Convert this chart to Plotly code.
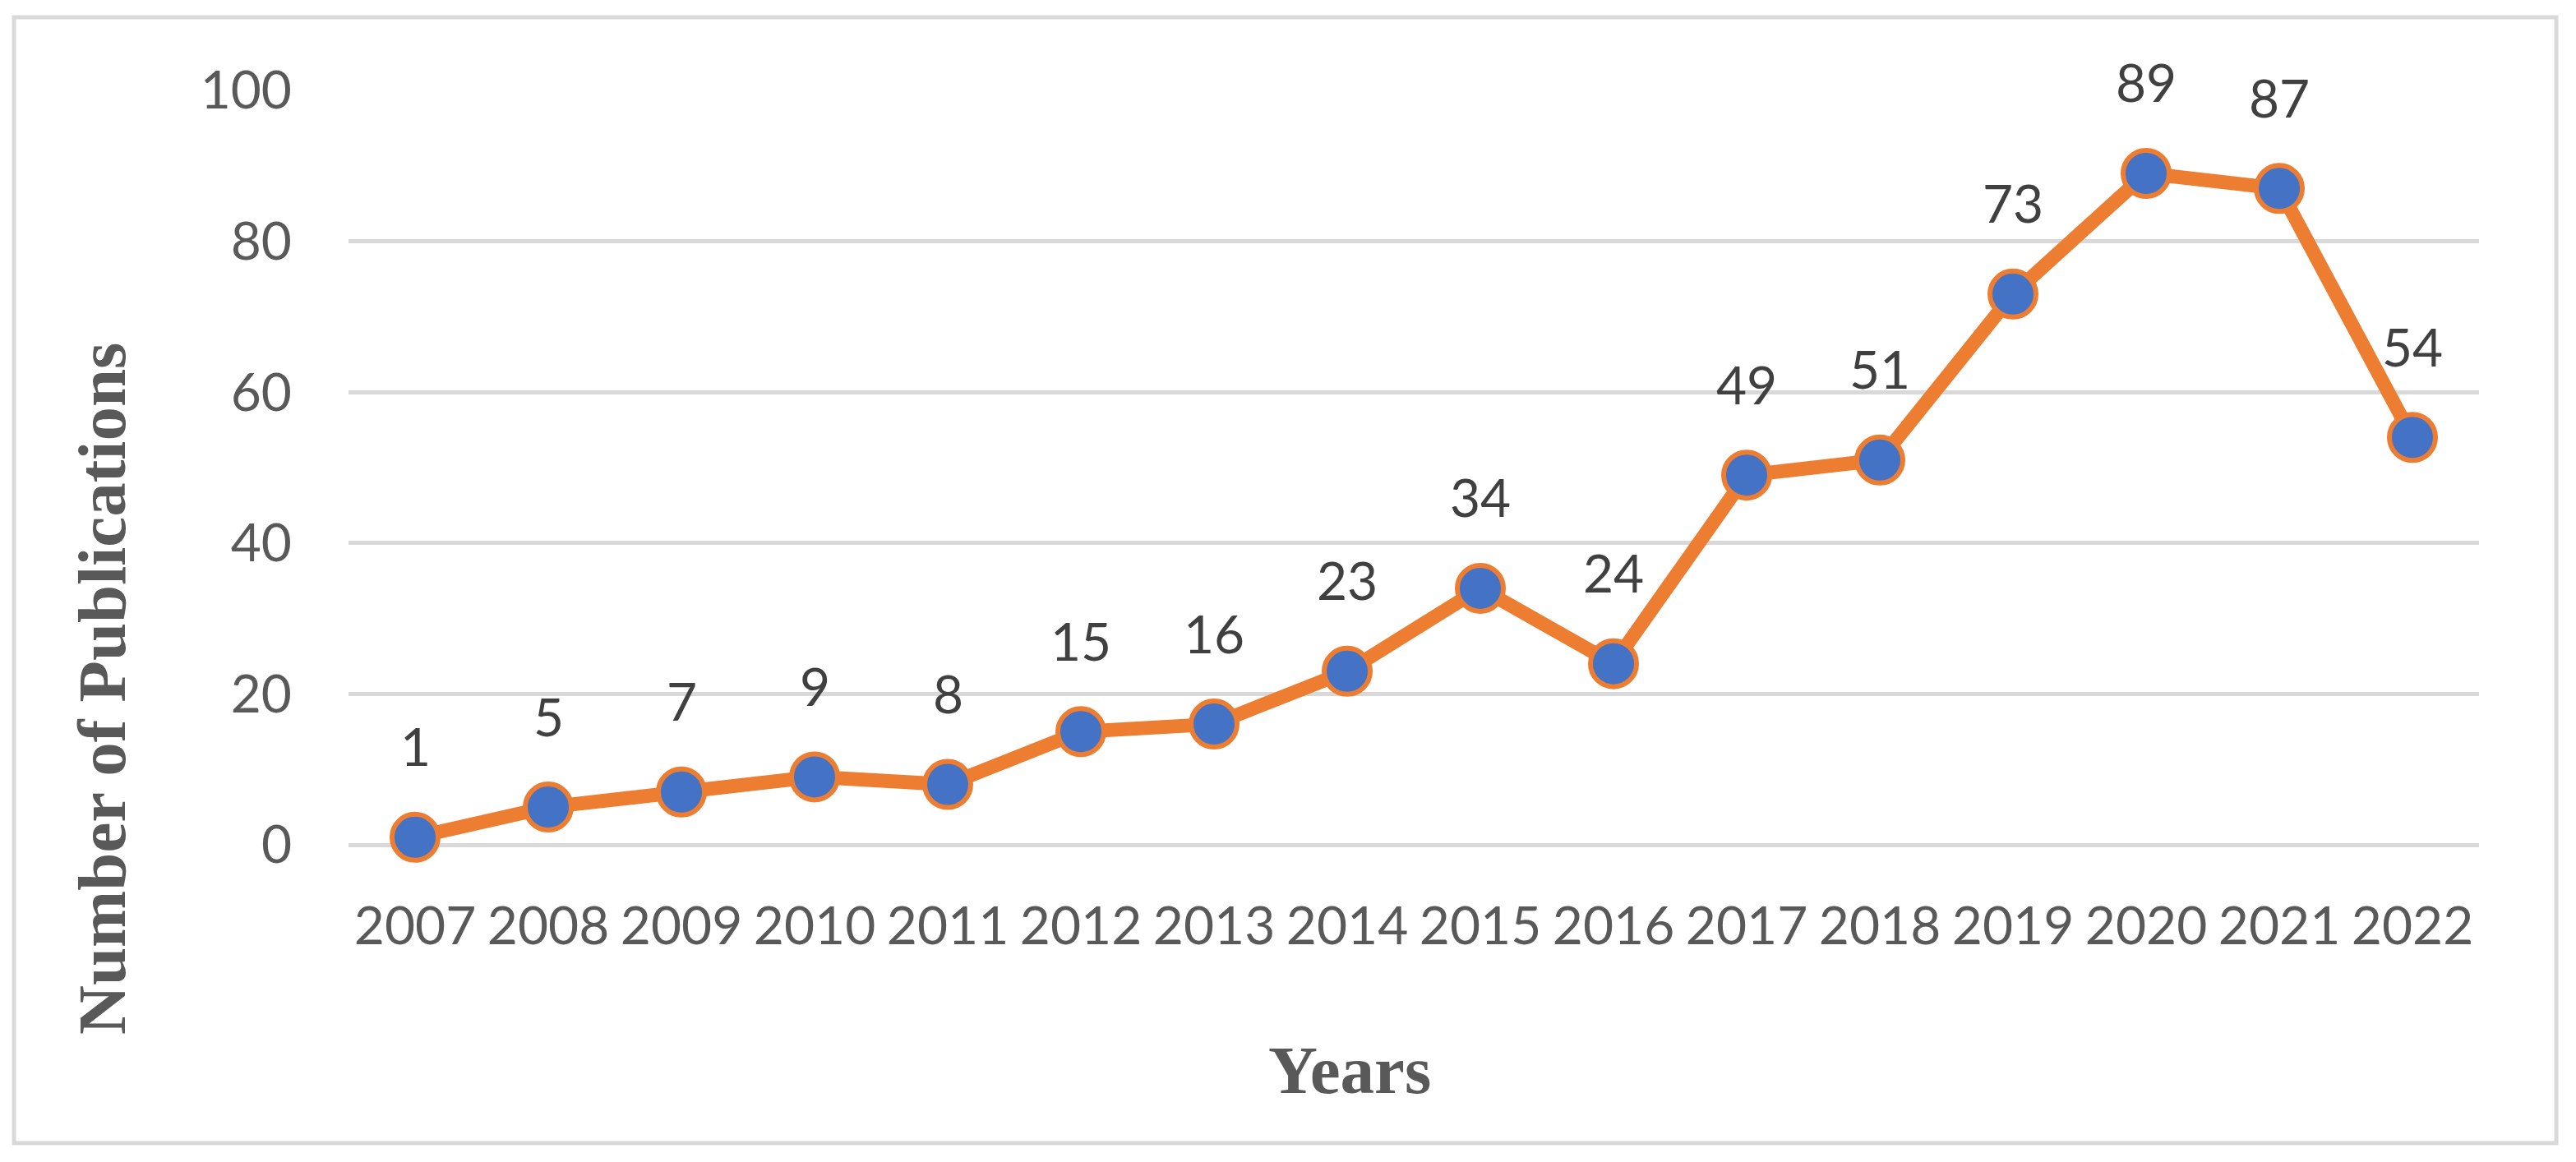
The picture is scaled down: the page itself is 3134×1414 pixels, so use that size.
import plotly.graph_objects as go

years = ["2007", "2008", "2009", "2010", "2011", "2012", "2013", "2014",
         "2015", "2016", "2017", "2018", "2019", "2020", "2021", "2022"]
publications = [1, 5, 7, 9, 8, 15, 16, 23, 34, 24, 49, 51, 73, 89, 87, 54]
y_ticks = [0, 20, 40, 60, 80, 100]

W, H = 3134, 1414
L, R, T, B = 424, 3134 - 3016, 110, 1414 - 1028
PW, PH = W - L - R, H - T - B


def px(x):
    return (x - L) / PW


def py(y):
    return (H - B - y) / PH


fig = go.Figure()
fig.add_trace(go.Scatter(
    x=years, y=publications, mode="lines+markers",
    line=dict(color="#ED7D31", width=17),
    marker=dict(size=56, color="#4472C4", line=dict(color="#ED7D31", width=6)),
    cliponaxis=False, showlegend=False, hoverinfo="skip",
))

annotations = []
for i, (yr, v) in enumerate(zip(years, publications)):
    annotations.append(dict(
        x=i, y=v, xref="x", yref="y", text=str(v), showarrow=False,
        yshift=111, xanchor="center", yanchor="middle",
        font=dict(family="Lato", size=64, color="#404040"),
    ))

annotations.append(dict(
    x=px(1642), y=py(1302), xref="paper", yref="paper", text="<b>Years</b>",
    showarrow=False, xanchor="center", yanchor="middle",
    font=dict(family="Liberation Serif", size=83, color="#595959"),
))
annotations.append(dict(
    x=px(124), y=py(838), xref="paper", yref="paper",
    text="<b>Number of Publications</b>", textangle=-90,
    showarrow=False, xanchor="center", yanchor="middle",
    font=dict(family="Liberation Serif", size=83, color="#595959"),
))

fig.update_layout(
    width=W, height=H,
    margin=dict(l=L, r=R, t=T, b=B, pad=0),
    paper_bgcolor="white", plot_bgcolor="white",
    annotations=annotations,
    shapes=[dict(
        type="rect", xref="paper", yref="paper",
        x0=px(17), x1=px(3110), y0=py(1391), y1=py(21),
        line=dict(color="#D9D9D9", width=5), fillcolor="rgba(0,0,0,0)",
        layer="below",
    )],
)

fig.update_xaxes(
    type="category", range=[-0.5, len(years) - 0.5],
    showgrid=False, showline=False, zeroline=False, ticks="",
    tickfont=dict(family="Lato", size=64, color="#595959"),
    ticklabelstandoff=56,
)
fig.update_yaxes(
    range=[0, 100], tickvals=y_ticks, ticktext=[str(t) for t in y_ticks],
    showgrid=True, gridcolor="#D9D9D9", gridwidth=5,
    zeroline=True, zerolinecolor="#D9D9D9", zerolinewidth=5,
    showline=False, ticks="",
    tickfont=dict(family="Lato", size=64, color="#595959"),
    ticklabelstandoff=68,
)

fig.write_html("out.html", config={"displayModeBar": False},
               post_script="document.body.style.margin='0';document.body.style.overflow='hidden';")
